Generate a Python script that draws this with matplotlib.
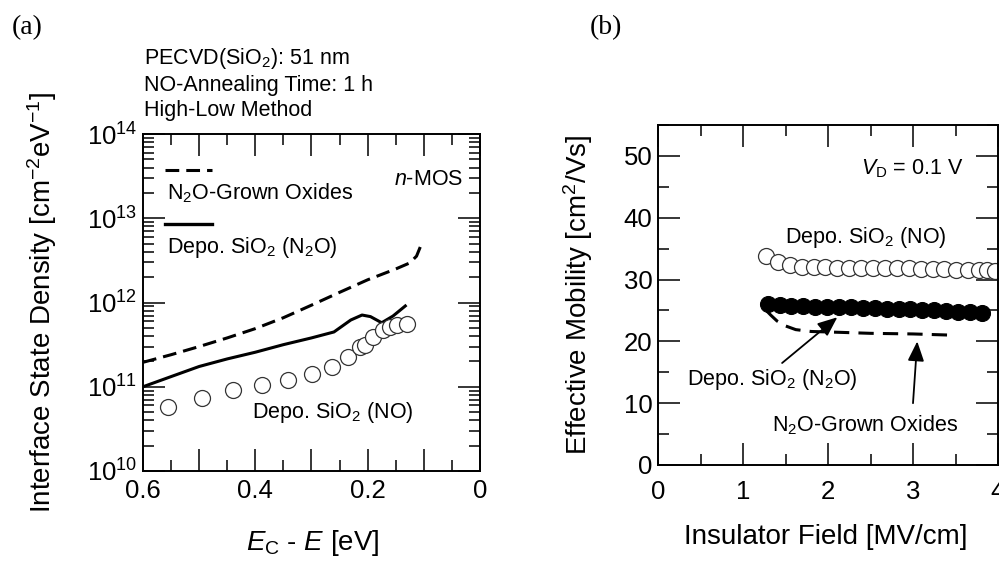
import numpy as np
import matplotlib
matplotlib.use("Agg")
import matplotlib.pyplot as plt
from matplotlib.ticker import MultipleLocator, FuncFormatter, LogLocator, NullFormatter

plt.rcParams['font.family'] = ['Liberation Sans', 'DejaVu Sans']
plt.rcParams['mathtext.fontset'] = 'custom'
plt.rcParams['mathtext.rm'] = 'Liberation Sans'
plt.rcParams['mathtext.it'] = 'Liberation Sans:italic'
plt.rcParams['mathtext.bf'] = 'Liberation Sans:bold'

# ========== DATA ========== #
# (a) interface state density vs Ec - E
n2o_e = [0.60, 0.55, 0.50, 0.45, 0.40, 0.35, 0.30, 0.25, 0.20, 0.15, 0.125, 0.113, 0.105]
n2o_dit = [1.95e11, 2.4e11, 3.0e11, 3.8e11, 4.9e11, 6.6e11, 9.3e11, 1.32e12, 1.86e12,
           2.5e12, 2.95e12, 3.55e12, 4.8e12]

dep_n2o_e = [0.60, 0.55, 0.50, 0.45, 0.40, 0.35, 0.30, 0.26, 0.23, 0.21, 0.195, 0.175, 0.155, 0.133]
dep_n2o_dit = [1.0e11, 1.32e11, 1.74e11, 2.14e11, 2.57e11, 3.16e11, 3.8e11, 4.47e11, 6.2e11,
               7.1e11, 6.8e11, 5.75e11, 6.9e11, 9.1e11]

dep_no_e = [0.555, 0.495, 0.44, 0.388, 0.342, 0.30, 0.264, 0.235, 0.214, 0.205, 0.19,
            0.173, 0.16, 0.148, 0.13]
dep_no_dit = [5.8e10, 7.4e10, 9.1e10, 1.05e11, 1.2e11, 1.41e11, 1.7e11, 2.24e11, 2.95e11,
              3.16e11, 3.9e11, 4.7e11, 5.1e11, 5.4e11, 5.6e11]

# (b) effective mobility vs insulator field
no_field = [1.27, 1.41, 1.55, 1.69, 1.83, 1.97, 2.11, 2.25, 2.39, 2.53, 2.67, 2.81, 2.95,
            3.09, 3.23, 3.37, 3.51, 3.65, 3.78, 3.87, 3.97]
no_mu = [33.8, 32.8, 32.3, 32.1, 32.0, 32.0, 31.9, 31.9, 31.9, 31.8, 31.8, 31.8, 31.8,
         31.7, 31.7, 31.7, 31.6, 31.6, 31.6, 31.5, 31.4]

n2o_dep_field = [1.29, 1.43, 1.57, 1.71, 1.85, 1.99, 2.13, 2.27, 2.41, 2.55, 2.69, 2.83,
                 2.97, 3.11, 3.25, 3.39, 3.53, 3.67, 3.81]
n2o_dep_mu = [26.1, 25.9, 25.8, 25.7, 25.6, 25.6, 25.5, 25.5, 25.4, 25.4, 25.3, 25.3,
              25.2, 25.1, 25.0, 24.9, 24.8, 24.7, 24.6]

grown_field = [1.28, 1.33, 1.40, 1.50, 1.62, 1.80, 2.05, 2.50, 3.00, 3.47]
grown_mu = [24.9, 24.2, 23.3, 22.5, 21.9, 21.6, 21.5, 21.3, 21.2, 21.0]

# ========== FIGURE ========== #
fig = plt.figure(figsize=(9.99, 5.61), dpi=100)
ax1 = fig.add_axes([143 / 999, 1 - 471 / 561, 337 / 999, 337 / 561])
ax2 = fig.add_axes([658 / 999, 1 - 465 / 561, 340 / 999, 340 / 561])

for ax in (ax1, ax2):
    for s in ax.spines.values():
        s.set_linewidth(1.4)
    ax.tick_params(which='both', direction='in', top=True, right=True, width=1.1,
                   labelsize=18.5)
    ax.tick_params(which='major', length=16)
    ax.tick_params(which='minor', length=8)

# ---- (a) ----
ax1.plot(n2o_e, n2o_dit, color='black', lw=2.2, dashes=(4.5, 2.3))
ax1.plot(dep_n2o_e, dep_n2o_dit, color='black', lw=2.2)
ax1.plot(dep_no_e, dep_no_dit, 'o', ms=11.5, mfc='white', mec='#333333', mew=0.9)
ax1.set_yscale('log')
ax1.set_xlim(0.6, 0)
ax1.set_ylim(1e10, 1e14)
ax1.xaxis.set_major_locator(MultipleLocator(0.1))
ax1.xaxis.set_minor_locator(MultipleLocator(0.05))


def efmt(v, pos):
    k = int(round(v * 10))
    if k % 2:
        return ''
    return '0' if k == 0 else '%.1f' % v


ax1.xaxis.set_major_formatter(FuncFormatter(efmt))
ax1.yaxis.set_major_locator(LogLocator(base=10, numticks=10))
ax1.yaxis.set_minor_locator(LogLocator(base=10, subs=np.arange(2, 10), numticks=20))
ax1.yaxis.set_minor_formatter(NullFormatter())
ax1.tick_params(axis='x', pad=6)
ax1.tick_params(axis='y', pad=4)

ax1.set_xlabel(r'$E_\mathrm{C}$ - $E$ [eV]', fontsize=20)
ax1.xaxis.set_label_coords(0.504, -0.17)
ax1.set_ylabel(r'Interface State Density [cm$^{-2}$eV$^{-1}$]', fontsize=20)
ax1.yaxis.set_label_coords(-0.25, 0.5)

# legend drawn as in the figure: line sample above its label
ax1.plot([0.065, 0.205], [0.893, 0.893], transform=ax1.transAxes, color='black', lw=2.2,
         dashes=(4.5, 2.3))
ax1.text(0.071, 0.825, r'N$_2$O-Grown Oxides', transform=ax1.transAxes, fontsize=15.5,
         va='center', ha='left')
ax1.plot([0.065, 0.205], [0.733, 0.733], transform=ax1.transAxes, color='black', lw=2.4)
ax1.text(0.071, 0.662, r'Depo. SiO$_2$ (N$_2$O)', transform=ax1.transAxes, fontsize=15.5,
         va='center', ha='left')
ax1.text(0.95, 0.866, r'$n$-MOS', transform=ax1.transAxes, fontsize=15.5, va='center',
         ha='right')
ax1.text(0.406, 10 ** 10.69, r'Depo. SiO$_2$ (NO)', fontsize=15.5, va='center', ha='left')

ax1.text(0.003, 1.223, r'PECVD(SiO$_2$): 51 nm', transform=ax1.transAxes, fontsize=15.5,
         va='center', ha='left')
ax1.text(0.003, 1.145, 'NO-Annealing Time: 1 h', transform=ax1.transAxes, fontsize=15.5,
         va='center', ha='left')
ax1.text(0.003, 1.071, 'High-Low Method', transform=ax1.transAxes, fontsize=15.5,
         va='center', ha='left')

# ---- (b) ----
ax2.plot(grown_field, grown_mu, color='black', lw=2.2, dashes=(5, 3))
ax2.plot(n2o_dep_field, n2o_dep_mu, 'o', ms=11.5, mfc='black', mec='black', mew=0.8)
ax2.plot(no_field, no_mu, 'o', ms=11.5, mfc='white', mec='#333333', mew=0.9)
ax2.set_xlim(0, 4)
ax2.set_ylim(0, 55)
ax2.xaxis.set_major_locator(MultipleLocator(1))
ax2.xaxis.set_minor_locator(MultipleLocator(0.5))
ax2.yaxis.set_major_locator(MultipleLocator(10))
ax2.yaxis.set_minor_locator(MultipleLocator(5))
ax2.tick_params(axis='x', pad=11)
ax2.tick_params(axis='y', pad=4)
ax2.set_xlabel('Insulator Field [MV/cm]', fontsize=20)
ax2.xaxis.set_label_coords(0.494, -0.175)
ax2.set_ylabel(r'Effective Mobility [cm$^2$/Vs]', fontsize=20)
ax2.yaxis.set_label_coords(-0.185, 0.5)

arrow = dict(arrowstyle='-|>,head_length=0.6,head_width=0.25', color='black', lw=1.3,
             shrinkA=0, shrinkB=0, mutation_scale=20)
ax2.annotate('', xy=(2.11, 23.9), xytext=(1.46, 16.5), arrowprops=arrow)
ax2.annotate('', xy=(3.05, 20.0), xytext=(3.0, 10.0), arrowprops=arrow)
ax2.text(1.35, 13.8, r'Depo. SiO$_2$ (N$_2$O)', fontsize=15.5, ha='center', va='center')
ax2.text(2.44, 6.5, r'N$_2$O-Grown Oxides', fontsize=15.5, ha='center', va='center')
ax2.text(2.44, 36.8, r'Depo. SiO$_2$ (NO)', fontsize=15.5, ha='center', va='center')
ax2.text(3.59, 47.9, r'$V_\mathrm{D}$ = 0.1 V', fontsize=15.5, ha='right', va='center')

fig.text(12 / 999, 1 - 28 / 561, '(a)', family='Liberation Serif', fontsize=20,
         ha='left', va='center')
fig.text(590 / 999, 1 - 28 / 561, '(b)', family='Liberation Serif', fontsize=20,
         ha='left', va='center')

fig.savefig('out.png', dpi=100)
